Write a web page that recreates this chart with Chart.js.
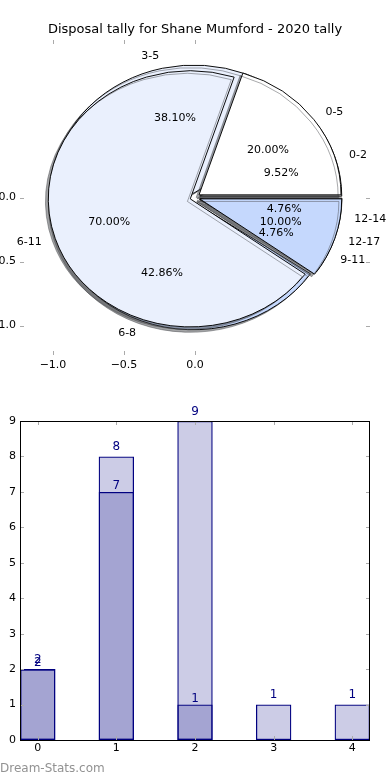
<!DOCTYPE html>
<html>
<head>
<meta charset="utf-8">
<script src="https://cdn.jsdelivr.net/npm/chart.js@4.4.1/dist/chart.umd.min.js"></script>
<style>
  html, body { margin: 0; padding: 0; background: #fff; overflow: hidden; }
  #wrap { position: relative; width: 390px; height: 780px; }
  canvas { position: absolute; left: 0; }
  #mark { position: absolute; left: 0; top: 761px; font: 12px "DejaVu Sans"; color: #929292; }
</style>
</head>
<body>
<div id="wrap">
  <canvas id="pieFine" width="390" height="390" style="top:0"></canvas>
  <canvas id="pieCoarse" width="390" height="390" style="top:0"></canvas>
  <canvas id="pieAxes" width="390" height="390" style="top:0"></canvas>
  <canvas id="bars" width="390" height="365" style="top:400px"></canvas>
  <div id="mark">Dream-Stats.com</div>
</div>
<script>
const titleText = "Disposal tally for Shane Mumford - 2020 tally";

// 3-year age groups (pie underneath, light bars)
const fineLabels = ["0-2", "3-5", "6-8", "9-11", "12-14"];
const fineCounts = [2, 8, 9, 1, 1];

// 6-year age groups (pie on top, darker bars)
const coarseLabels = ["0-5", "6-11", "12-17"];
const coarseCounts = [2, 7, 1];

// bar chart positions / ticks
const barPositions = [0, 1, 2, 3, 4];
const barYTicks = [0, 1, 2, 3, 4, 5, 6, 7, 8, 9];

// tick values shown on the pie axes
const pieXTicks = [-1.0, -0.5, 0.0];
const pieYTicks = [0.0, -0.5, -1.0];

// styling
const FONT = "DejaVu Sans";
const fineColors = ["#ffffff", "#eaf0fd", "#c5d8fd", "#ffffff", "#eaf0fd"];
const coarseColors = ["#ffffff", "#eaf0fd", "#c5d8fd"];
const fineExplode = [0.035, 0.035, 0.035, 0.035, 0.035];
const coarseExplode = [0.035, 0.035, 0.035];
const XLIM = 1.2324, YLIM = 1.23;
const unitX = 350 / (2 * XLIM);
const unitY = 315 / (2 * YLIM);
const squash = unitY / unitX;

const fmtTick = v => (v < 0 ? "\u2212" : "") + Math.abs(v).toFixed(1);

// shift each wedge out along its middle angle (like matplotlib explode)
const explodePlugin = {
  id: "explode",
  afterDatasetUpdate(chart, args, opts) {
    args.meta.data.forEach((arc, i) => {
      const mid = (arc.startAngle + arc.endAngle) / 2;
      const d = (opts.amounts[i] || 0) * arc.outerRadius;
      arc.x += Math.cos(mid) * d;
      arc.y += Math.sin(mid) * d;
    });
  }
};

// squash the pie into the axes' unequal aspect and add a drop shadow
const squashPlugin = {
  id: "squash",
  beforeDatasetsDraw(chart) {
    const { ctx, chartArea: a } = chart;
    const cx = (a.left + a.right) / 2, cy = (a.top + a.bottom) / 2;
    ctx.save();
    ctx.translate(cx, cy);
    ctx.scale(1, squash);
    ctx.translate(-cx, -cy);
    ctx.shadowColor = "rgba(72,74,78,0.5)";
    ctx.shadowOffsetX = -0.02 * unitX;
    ctx.shadowOffsetY = 0.02 * unitY;
    ctx.shadowBlur = 0;
  },
  afterDatasetsDraw(chart) {
    chart.ctx.restore();
  }
};

function pieConfig(names, counts, colors, explode) {
  // matplotlib goes counter-clockwise from east; chart.js goes clockwise,
  // so feed the wedges in reverse starting at 90deg
  return {
    type: "pie",
    data: {
      labels: names.slice().reverse(),
      datasets: [{
        data: counts.slice().reverse(),
        backgroundColor: colors.slice().reverse(),
        borderColor: "#000",
        borderWidth: 1,
        clip: false
      }]
    },
    options: {
      responsive: false,
      animation: false,
      events: [],
      rotation: 90,
      radius: unitX,
      layout: { padding: { left: 20, right: 20, top: 40, bottom: 35 } },
      plugins: {
        legend: { display: false },
        tooltip: { enabled: false },
        explode: { amounts: explode.slice().reverse() }
      }
    },
    plugins: [explodePlugin, squashPlugin]
  };
}

new Chart(document.getElementById("pieFine"), pieConfig(fineLabels, fineCounts, fineColors, fineExplode));
new Chart(document.getElementById("pieCoarse"), pieConfig(coarseLabels, coarseCounts, coarseColors, coarseExplode));

function wedgeTexts(names, counts, explode) {
  const total = counts.reduce((s, v) => s + v, 0);
  let start = 0;
  return counts.map((v, i) => {
    const frac = v / total;
    const mid = 2 * Math.PI * (start + frac / 2);
    start += frac;
    const ex = explode[i] * Math.cos(mid), ey = explode[i] * Math.sin(mid);
    return {
      name: names[i],
      pct: (frac * 100).toFixed(2) + "%",
      lx: ex + 1.1 * Math.cos(mid), ly: ey + 1.1 * Math.sin(mid),
      px: ex + 0.6 * Math.cos(mid), py: ey + 0.6 * Math.sin(mid)
    };
  });
}

function innerTicks(chart, xs, ys, color) {
  const { ctx, chartArea: a, scales } = chart;
  ctx.save();
  ctx.strokeStyle = color;
  ctx.lineWidth = 1;
  ctx.beginPath();
  xs.forEach(v => {
    const p = Math.round(scales.x.getPixelForValue(v)) + 0.5;
    ctx.moveTo(p, a.top); ctx.lineTo(p, a.top + 4);
    ctx.moveTo(p, a.bottom); ctx.lineTo(p, a.bottom - 4);
  });
  ys.forEach(v => {
    const p = Math.round(scales.y.getPixelForValue(v)) + 0.5;
    ctx.moveTo(a.left, p); ctx.lineTo(a.left + 4, p);
    ctx.moveTo(a.right, p); ctx.lineTo(a.right - 4, p);
  });
  ctx.stroke();
  ctx.restore();
}

const pieTextPlugin = {
  id: "pieText",
  afterDraw(chart) {
    const { ctx, scales } = chart;
    innerTicks(chart, pieXTicks, pieYTicks, "#aaa");
    ctx.save();
    ctx.font = "11px " + FONT;
    ctx.fillStyle = "#000";
    ctx.textBaseline = "middle";
    const all = wedgeTexts(fineLabels, fineCounts, fineExplode)
      .concat(wedgeTexts(coarseLabels, coarseCounts, coarseExplode));
    all.forEach(t => {
      ctx.textAlign = t.lx > 0 ? "left" : "right";
      ctx.fillText(t.name, scales.x.getPixelForValue(t.lx), scales.y.getPixelForValue(t.ly));
      ctx.textAlign = "center";
      ctx.fillText(t.pct, scales.x.getPixelForValue(t.px), scales.y.getPixelForValue(t.py));
    });
    ctx.restore();
  }
};

const tickFont = { family: FONT, size: 11 };

new Chart(document.getElementById("pieAxes"), {
  type: "scatter",
  data: { datasets: [] },
  options: {
    responsive: false,
    animation: false,
    events: [],
    layout: { padding: 0 },
    plugins: {
      legend: { display: false },
      tooltip: { enabled: false },
      title: {
        display: true,
        text: titleText,
        color: "#000",
        font: { family: FONT, size: 13, weight: "normal" },
        padding: { top: 22, bottom: 2.4 }
      }
    },
    scales: {
      x: {
        type: "linear", min: -XLIM, max: XLIM,
        grid: { display: false, drawTicks: false },
        border: { display: false },
        afterBuildTicks: s => { s.ticks = pieXTicks.map(v => ({ value: v })); },
        afterFit: s => { s.height = 35; },
        ticks: { padding: 4, color: "#000", font: tickFont, autoSkip: false, maxRotation: 0, callback: fmtTick }
      },
      y: {
        type: "linear", min: -YLIM, max: YLIM,
        grid: { display: false, drawTicks: false },
        border: { display: false },
        afterBuildTicks: s => { s.ticks = pieYTicks.map(v => ({ value: v })); },
        afterFit: s => { s.width = 20; },
        ticks: { padding: 4, color: "#000", font: tickFont, autoSkip: false, callback: fmtTick }
      },
      yr: {
        type: "linear", position: "right",
        grid: { display: false, drawTicks: false },
        border: { display: false },
        ticks: { display: false },
        afterFit: s => { s.width = 20; }
      }
    }
  },
  plugins: [pieTextPlugin]
});

// bar chart
const barValuePlugin = {
  id: "barValues",
  afterDatasetsDraw(chart, args, opts) {
    const { ctx } = chart;
    ctx.save();
    ctx.font = "12px " + FONT;
    ctx.fillStyle = "#000080";
    ctx.textAlign = "center";
    ctx.textBaseline = "middle";
    chart.data.datasets.forEach((ds, di) => {
      const meta = chart.getDatasetMeta(di);
      meta.data.forEach((bar, i) => {
        const v = ds.data[i].y;
        if (v > 0) ctx.fillText(String(v), bar.x, bar.y - opts.lift[di]);
      });
    });
    ctx.restore();
  },
  afterDraw(chart) {
    const { ctx, chartArea: a } = chart;
    innerTicks(chart, barPositions, barYTicks, "#aaa");
    ctx.save();
    ctx.strokeStyle = "#000";
    ctx.lineWidth = 1;
    ctx.strokeRect(Math.round(a.left) + 0.5, Math.round(a.top) + 0.5,
      Math.round(a.right - a.left) - 1, Math.round(a.bottom - a.top));
    ctx.restore();
  }
};

const barStyle = {
  backgroundColor: "rgba(0,0,128,0.2)",
  borderColor: "#000080",
  borderWidth: 1.3,
  borderSkipped: false,
  grouped: false,
  barPercentage: 0.45,
  categoryPercentage: 1
};

new Chart(document.getElementById("bars"), {
  type: "bar",
  data: {
    datasets: [
      Object.assign({ label: "3-year groups", data: barPositions.map((x, i) => ({ x: x, y: fineCounts[i] })) }, barStyle),
      Object.assign({ label: "6-year groups", data: coarseCounts.map((y, i) => ({ x: barPositions[i], y: y })) }, barStyle)
    ]
  },
  options: {
    responsive: false,
    animation: false,
    events: [],
    layout: { padding: { left: 0, right: 20, top: 21, bottom: 5 } },
    plugins: {
      legend: { display: false },
      tooltip: { enabled: false },
      barValues: { lift: [9.5, 6] }
    },
    scales: {
      x: {
        type: "linear", min: -0.225, max: 4.225, offset: false,
        grid: { display: false, drawTicks: false, offset: false },
        border: { display: false },
        afterBuildTicks: s => { s.ticks = barPositions.map(v => ({ value: v })); },
        afterFit: s => { s.height = 20; },
        ticks: { padding: 2, color: "#000", font: tickFont, autoSkip: false, maxRotation: 0 }
      },
      y: {
        min: 0, max: 9,
        grid: { display: false, drawTicks: false },
        border: { display: false },
        afterBuildTicks: s => { s.ticks = barYTicks.map(v => ({ value: v })); },
        afterFit: s => { s.width = 20; },
        ticks: { padding: 4, color: "#000", font: tickFont, autoSkip: false }
      }
    }
  },
  plugins: [barValuePlugin]
});
</script>
</body>
</html>
